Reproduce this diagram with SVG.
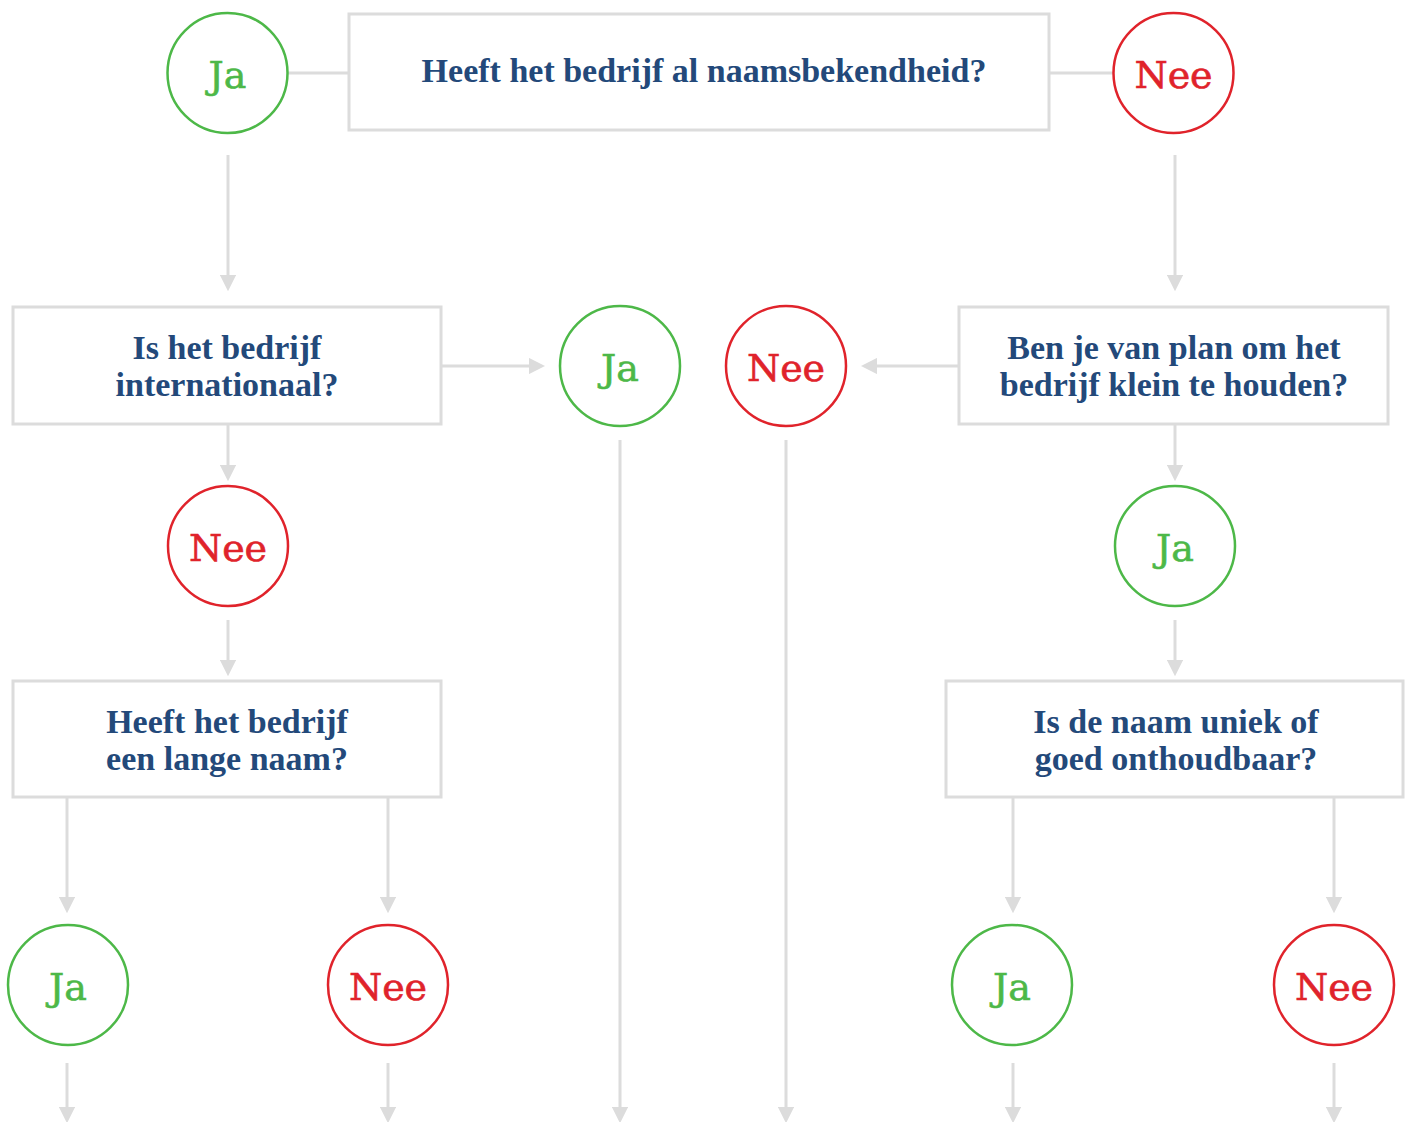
<svg xmlns="http://www.w3.org/2000/svg" width="1410" height="1122" viewBox="0 0 1410 1122">
<style>
.box{fill:#fff;stroke:#dcdcdc;stroke-width:3}
.q{font-family:"Liberation Serif",serif;font-weight:bold;font-size:34px;fill:#23497a;text-anchor:middle}
.yes{fill:#fff;stroke:#4db848;stroke-width:2.5}
.no{fill:#fff;stroke:#e0232b;stroke-width:2.5}
.yt{font-family:"DejaVu Serif",serif;font-size:38px;fill:#4db848;stroke:#4db848;stroke-width:0.6;text-anchor:middle}
.nt{font-family:"DejaVu Serif",serif;font-size:38px;fill:#e0232b;stroke:#e0232b;stroke-width:0.6;text-anchor:middle}
.c{stroke:#dcdcdc;stroke-width:3;fill:none}
.a{stroke:#dcdcdc;stroke-width:3;fill:none;marker-end:url(#ah)}
</style>
<defs>
<marker id="ah" viewBox="0 0 10 10" refX="2" refY="5" markerWidth="5.5" markerHeight="5.5" orient="auto" markerUnits="strokeWidth">
<path d="M0,0 L10,5 L0,10 z" fill="#dcdcdc"/>
</marker>
</defs>
<rect width="1410" height="1122" fill="#fff"/>
<g id="connectors">
<line class="c" x1="288" y1="73" x2="349" y2="73"/>
<line class="c" x1="1049" y1="73" x2="1113" y2="73"/>
<line class="a" x1="228" y1="155" x2="228" y2="278"/>
<line class="a" x1="1175" y1="155" x2="1175" y2="278"/>
<line class="a" x1="442" y1="366" x2="532" y2="366"/>
<line class="a" x1="958" y1="366" x2="874" y2="366"/>
<line class="a" x1="228" y1="425" x2="228" y2="468"/>
<line class="a" x1="1175" y1="425" x2="1175" y2="468"/>
<line class="a" x1="228" y1="620" x2="228" y2="663"/>
<line class="a" x1="1175" y1="620" x2="1175" y2="663"/>
<line class="a" x1="67" y1="798" x2="67" y2="900"/>
<line class="a" x1="388" y1="798" x2="388" y2="900"/>
<line class="a" x1="1013" y1="798" x2="1013" y2="900"/>
<line class="a" x1="1334" y1="798" x2="1334" y2="900"/>
<line class="a" x1="620" y1="440" x2="620" y2="1110"/>
<line class="a" x1="786" y1="440" x2="786" y2="1110"/>
<line class="a" x1="67" y1="1063" x2="67" y2="1110"/>
<line class="a" x1="388" y1="1063" x2="388" y2="1110"/>
<line class="a" x1="1013" y1="1063" x2="1013" y2="1110"/>
<line class="a" x1="1334" y1="1063" x2="1334" y2="1110"/>
</g>
<g id="q1"><rect class="box" x="349" y="14" width="700" height="116"/><text class="q" x="704" y="82">Heeft het bedrijf al naamsbekendheid?</text></g>
<g id="ja1"><circle class="yes" cx="227.5" cy="73" r="60"/><text class="yt" x="227.5" y="88">Ja</text></g>
<g id="nee1"><circle class="no" cx="1173.5" cy="73" r="60"/><text class="nt" x="1173.5" y="88">Nee</text></g>
<g id="q2"><rect class="box" x="13" y="307" width="428" height="117"/><text class="q" x="227" y="359">Is het bedrijf</text><text class="q" x="227" y="396">internationaal?</text></g>
<g id="q3"><rect class="box" x="959" y="307" width="429" height="117"/><text class="q" x="1174" y="359">Ben je van plan om het</text><text class="q" x="1174" y="396">bedrijf klein te houden?</text></g>
<g id="ja2"><circle class="yes" cx="620" cy="366" r="60"/><text class="yt" x="620" y="381">Ja</text></g>
<g id="nee2"><circle class="no" cx="786" cy="366" r="60"/><text class="nt" x="786" y="381">Nee</text></g>
<g id="nee3"><circle class="no" cx="228" cy="546" r="60"/><text class="nt" x="228" y="561">Nee</text></g>
<g id="ja3"><circle class="yes" cx="1175" cy="546" r="60"/><text class="yt" x="1175" y="561">Ja</text></g>
<g id="q4"><rect class="box" x="13" y="681" width="428" height="116"/><text class="q" x="227" y="733">Heeft het bedrijf</text><text class="q" x="227" y="770">een lange naam?</text></g>
<g id="q5"><rect class="box" x="946" y="681" width="457" height="116"/><text class="q" x="1176" y="733">Is de naam uniek of</text><text class="q" x="1176" y="770">goed onthoudbaar?</text></g>
<g id="ja4"><circle class="yes" cx="68" cy="985" r="60"/><text class="yt" x="68" y="1000">Ja</text></g>
<g id="nee4"><circle class="no" cx="388" cy="985" r="60"/><text class="nt" x="388" y="1000">Nee</text></g>
<g id="ja5"><circle class="yes" cx="1012" cy="985" r="60"/><text class="yt" x="1012" y="1000">Ja</text></g>
<g id="nee5"><circle class="no" cx="1334" cy="985" r="60"/><text class="nt" x="1334" y="1000">Nee</text></g>
</svg>
